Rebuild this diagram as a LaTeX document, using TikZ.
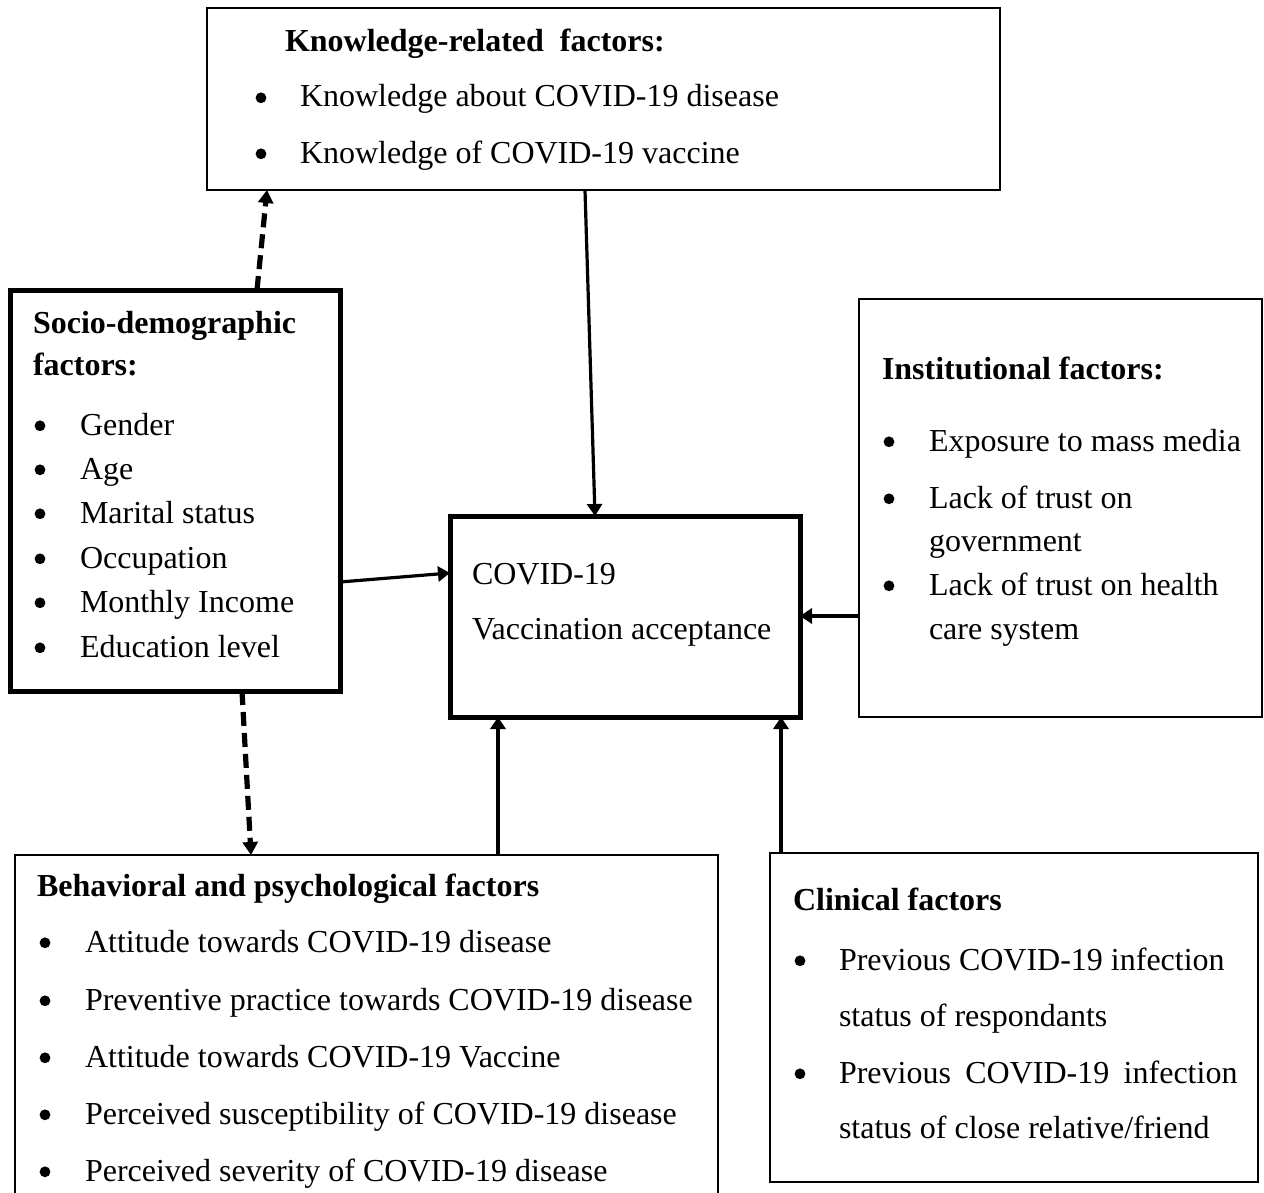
\documentclass[tikz,border=0pt]{standalone}
\usepackage{fontspec}
\setmainfont{Liberation Serif}
\usetikzlibrary{arrows.meta,calc,fit}
\begin{document}
\begin{tikzpicture}[x=0.5pt,y=-0.5pt,
  font=\fontsize{16}{19}\selectfont,
  box/.style={draw, rectangle, inner sep=0pt, outer sep=0pt},
  thinbox/.style={box, line width=1.2pt},
  thickbox/.style={box, line width=2.5pt},
  txt/.style={anchor=base west, inner sep=0pt, outer sep=0pt},
  ttl/.style={txt, font=\fontsize{16}{19}\selectfont\bfseries},
  bul/.style={circle, fill, inner sep=0pt, minimum size=5.4pt, yshift=4.6pt},
  link/.style={line width=1.6pt, -{Triangle[length=6pt,width=7.5pt]}},
  dlink/.style={line width=2.6pt, dash pattern=on 7pt off 3.5pt, -{Triangle[length=6.5pt,width=7.5pt]}},
]
\path[use as bounding box] (0,0) rectangle (1264,1193);

% boxes
\node[thinbox,  fit={(207,8) (1000,190)}]   (kn)   {};
\node[thickbox, fit={(10,290) (340,691)}]   (soc)  {};
\node[thickbox, fit={(450,516) (800,717)}]  (ctr)  {};
\node[thinbox,  fit={(859,299) (1262,717)}] (inst) {};
\node[thinbox,  fit={(15,855) (718,1230)}]  (beh)  {};
\node[thinbox,  fit={(770,853) (1258,1182)}] (cli) {};

% knowledge
\node[ttl] (knt) at (285,52) {Knowledge-related\ \ factors:};
\foreach \t/\yy [count=\i] in {Knowledge about COVID-19 disease/107, Knowledge of COVID-19 vaccine/163}{
  \node[bul] (kb\i) at (261,\yy) {};
  \node[txt] (k\i) at (300,\yy) {\t};
}

% socio-demographic
\node[ttl] (st1) at (33,333) {Socio-demographic};
\node[ttl] (st2) at (33,375) {factors:};
\foreach \t/\yy [count=\i] in {Gender/435, Age/479, Marital status/523, Occupation/568, Monthly Income/612, Education level/657}{
  \node[bul] (sb\i) at (40,\yy) {};
  \node[txt] (s\i) at (80,\yy) {\t};
}

% center
\node[txt] (c1) at (472,584) {COVID-19};
\node[txt] (c2) at (472,639) {Vaccination acceptance};

% institutional
\node[ttl] (it) at (882,379) {Institutional factors:};
\node[bul] (ib1) at (889,451) {};
\node[txt] (i1) at (929,451) {Exposure to mass media};
\node[bul] (ib2) at (889,508) {};
\node[txt] (i2) at (929,508) {Lack of trust on};
\node[txt] (i2b) at (929,551) {government};
\node[bul] (ib3) at (889,595) {};
\node[txt] (i3) at (929,595) {Lack of trust on health};
\node[txt] (i3b) at (929,639) {care system};

% behavioral
\node[ttl] (bt) at (37,896) {Behavioral and psychological factors};
\foreach \t/\yy [count=\i] in {Attitude towards COVID-19 disease/952, Preventive practice towards COVID-19 disease/1010, Attitude towards COVID-19 Vaccine/1067, Perceived susceptibility of COVID-19 disease/1124, Perceived severity of COVID-19 disease/1181}{
  \node[bul] (bb\i) at (45,\yy) {};
  \node[txt] (b\i) at (85,\yy) {\t};
}

% clinical
\node[ttl] (clt) at (793,910) {Clinical factors};
\node[bul] (cb1) at (800,970) {};
\node[txt] (cl1) at (839,970) {Previous COVID-19 infection};
\node[txt] (cl1b) at (839,1026) {status of respondants};
\node[bul] (cb2) at (800,1083) {};
\node[txt] (cl2) at (839,1083) {Previous\hspace{0.45em}COVID-19\hspace{0.45em}infection};
\node[txt] (cl2b) at (839,1138) {status of close relative/friend};

% connectors
\draw[dlink] ($(soc.north west)+(247,0)$) -- ($(kn.south west)+(60,0)$);
\draw[link]  ($(kn.south west)+(378,0)$) -- ($(ctr.north west)+(145,0)$);
\draw[link]  ($(soc.north east)+(0,292)$) -- ($(ctr.north west)+(0,57)$);
\draw[link]  ($(inst.north west)+(0,317)$) -- ($(ctr.north east)+(0,100)$);
\draw[link]  ($(beh.north west)+(483,0)$) -- ($(ctr.south west)+(48,0)$);
\draw[link]  ($(cli.north west)+(11,0)$) -- ($(ctr.south west)+(331,0)$);
\draw[dlink] ($(soc.south west)+(232,0)$) -- ($(beh.north west)+(236,0)$);
\end{tikzpicture}
\end{document}
